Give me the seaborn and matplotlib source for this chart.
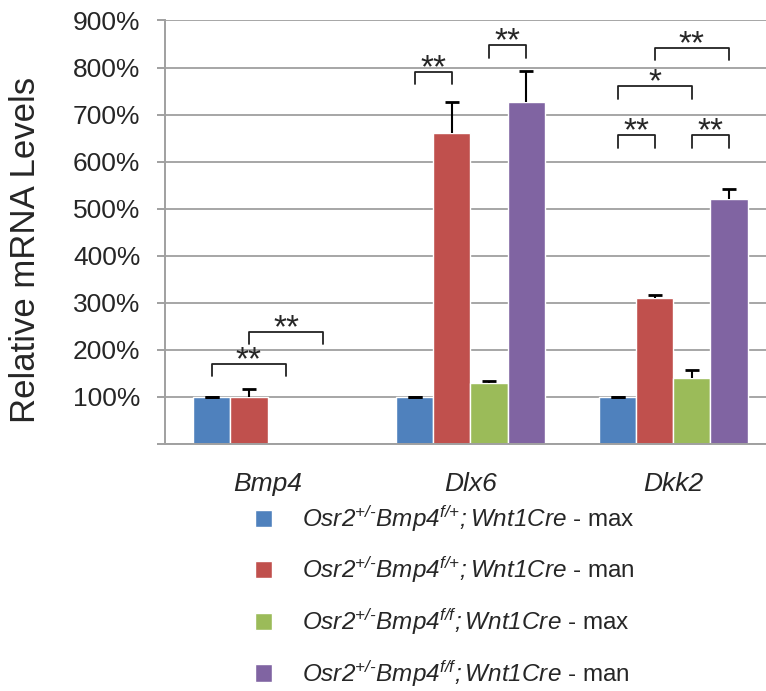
import pandas as pd
import seaborn as sns
import matplotlib.pyplot as plt

# genes on the x axis and the four genotype/tissue groups
genes = ["Bmp4", "Dlx6", "Dkk2"]
groups = [
    "$Osr2^{+/\u2010}Bmp4^{f/{+}}{;}Wnt1Cre$ - max",
    "$Osr2^{+/\u2010}Bmp4^{f/{+}}{;}Wnt1Cre$ - man",
    "$Osr2^{+/\u2010}Bmp4^{f/f}{;}Wnt1Cre$ - max",
    "$Osr2^{+/\u2010}Bmp4^{f/f}{;}Wnt1Cre$ - man",
]
colors = ["#4F81BD", "#C0504D", "#9BBB59", "#8064A2"]

# relative mRNA levels (%)
max_fp = [100, 100, 100]
man_fp = [100, 660, 310]
max_ff = [0, 130, 140]
man_ff = [0, 726, 520]

# upper error bars (%)
err_max_fp = [0, 0, 0]
err_man_fp = [17, 66, 7]
err_max_ff = [0, 4, 17]
err_man_ff = [0, 66, 21]

yticks = [0, 100, 200, 300, 400, 500, 600, 700, 800, 900]
ytick_labels = ["", "100%", "200%", "300%", "400%", "500%", "600%", "700%", "800%", "900%"]

# significance brackets: (gene index, group a, group b, height %, label)
brackets = [
    (0, 0, 2, 170, "**"),
    (0, 1, 3, 238, "**"),
    (1, 0, 1, 790, "**"),
    (1, 2, 3, 847, "**"),
    (2, 1, 3, 841, "**"),
    (2, 0, 2, 760, "*"),
    (2, 0, 1, 656, "**"),
    (2, 2, 3, 656, "**"),
]

values = [max_fp, man_fp, max_ff, man_ff]
errors = [err_max_fp, err_man_fp, err_max_ff, err_man_ff]

rows = []
for grp, vals in zip(groups, values):
    for gene, v in zip(genes, vals):
        rows.append({"gene": gene, "group": grp, "value": v})
df = pd.DataFrame(rows)

sns.set_theme(style="white")
plt.rcParams['font.family'] = ['Liberation Sans', 'DejaVu Sans']
plt.rcParams['mathtext.fontset'] = 'custom'
plt.rcParams['mathtext.it'] = 'Liberation Sans:italic'
plt.rcParams['mathtext.rm'] = 'Liberation Sans:italic'
plt.rcParams['mathtext.sf'] = 'Liberation Sans'

fig = plt.figure(figsize=(7.66, 6.91), dpi=100)
ax = fig.add_axes([165 / 766, 247 / 691, 601 / 766, 424 / 691])

sns.barplot(data=df, x="gene", y="value", hue="group", order=genes,
            hue_order=groups, palette=colors, width=0.73, saturation=1,
            errorbar=None, ax=ax)
bar_conts = list(ax.containers[:len(groups)])

# error bars (only upward, single cap on top)
for i, cont in enumerate(bar_conts):
    for j, bar in enumerate(cont):
        if values[i][j] <= 0:
            continue
        xc = bar.get_x() + bar.get_width() / 2
        eb = ax.errorbar(xc, values[i][j], yerr=[[0], [errors[i][j]]], fmt='none',
                         ecolor='black', elinewidth=1.5, capsize=5, capthick=2, zorder=3)
        caps = eb[1]
        if errors[i][j] > 0 and len(caps) == 2:
            caps[0].set_visible(False)

# significance brackets
leg = 26
for g, a, b, y, lab in brackets:
    ba = bar_conts[a][g]
    bb = bar_conts[b][g]
    xa = ba.get_x() + ba.get_width() / 2
    xb = bb.get_x() + bb.get_width() / 2
    ax.plot([xa, xa, xb, xb], [y - leg, y, y, y - leg], color='#222222', lw=1.3, zorder=4)
    ax.annotate(lab, xy=((xa + xb) / 2, y), xytext=(0, -5), textcoords='offset pixels',
                ha='center', va='baseline', fontsize=24)

ax.set_xlim(-0.505, 2.456)
ax.set_ylim(0, 901)
ax.set_yticks(yticks)
ax.set_yticklabels(ytick_labels)
ax.yaxis.grid(True, color='#A6A6A6', linewidth=1.4)
ax.set_axisbelow(True)
ax.tick_params(axis='y', left=True, length=5.8, width=1.4, color='#A0A0A0',
               pad=12, labelsize=19)
ax.tick_params(axis='x', length=0, pad=20, labelsize=19)
for t in ax.get_xticklabels():
    t.set_fontstyle('italic')

sns.despine(ax=ax)
for side in ['left', 'bottom']:
    ax.spines[side].set_color('#A0A0A0')
    ax.spines[side].set_linewidth(1.4)

ax.set_xlabel('')
ax.set_ylabel('Relative mRNA Levels', fontsize=25)
ax.yaxis.set_label_coords(-0.205, 0.4575)

handles, labels = ax.get_legend_handles_labels()
ax.get_legend().remove()
fig.legend(handles, labels, loc='upper left', bbox_to_anchor=(255 / 766, 1 - 503 / 691),
           frameon=False, fontsize=17.5, handlelength=0.7, handleheight=0.7,
           handletextpad=1.25, labelspacing=0.86, borderpad=0, borderaxespad=0)

fig.savefig('out.png', dpi=100)
